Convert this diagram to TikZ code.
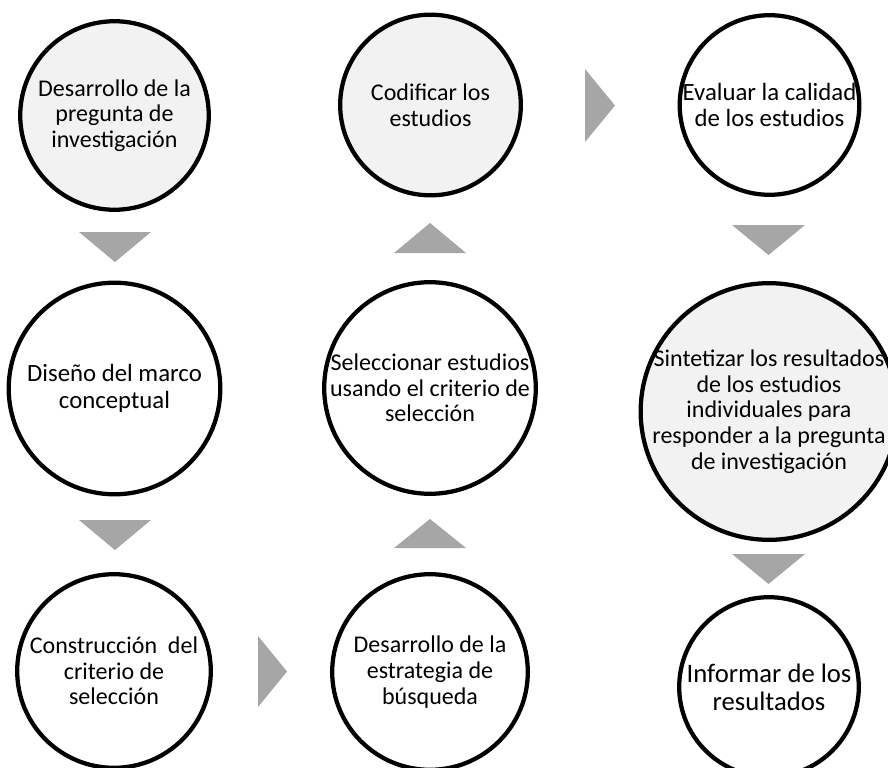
\documentclass[tikz,border=0pt]{standalone}
\usepackage{fontspec}
\setmainfont{Carlito}
\definecolor{lightfill}{HTML}{F2F2F2}
\definecolor{arrowgray}{HTML}{A6A6A6}
\tikzset{
  ring/.style={circle, draw=black, line width=3.2pt, inner sep=0pt, outer sep=0pt, minimum size=#1},
  shaded/.style={fill=lightfill},
  plain/.style={fill=white},
  txt/.style={align=center, inner sep=0pt, font=\fontsize{18}{19.3}\selectfont, text=black},
  bigtxt/.style={txt, font=\fontsize{18.6}{19.9}\selectfont},
  hugetxt/.style={txt, font=\fontsize{20}{21}\selectfont},
  tri/.style={fill=arrowgray},
}
\begin{document}
\begin{tikzpicture}[x=0.75pt,y=-0.75pt]
\useasboundingbox (0,0) rectangle (888,767);
\clip (0,0) rectangle (888,767);
\fill[white] (0,0) rectangle (888,767);
% circles
\node[ring=141.4pt, shaded] (c1) at (114.5,115.5) {};
\node[ring=158.7pt, plain]  (c2) at (114.5,388.5) {};
\node[ring=145.2pt, plain]  (c3) at (114,671) {};
\node[ring=146.7pt, plain]  (c4) at (430,672) {};
\node[ring=158.7pt, plain]  (c5) at (430,388) {};
\node[ring=135.5pt, shaded] (c6) at (430.5,105) {};
\node[ring=134.7pt, plain]  (c7) at (769.5,105) {};
\node[ring=192.5pt, shaded] (c8) at (769,411.5) {};
\node[ring=134.7pt, plain]  (c9) at (769,687) {};
% texts
\node[txt] (t1) at (c1.center) {Desarrollo de la\\pregunta de\\investigación};
\node[bigtxt] (t2) at (c2.center) {Diseño del marco\\conceptual};
\node[txt] (t3) at (c3.center) {Construcción\ \ del\\criterio de\\selección};
\node[txt] (t4) at (c4.center) {Desarrollo de la\\estrategia de\\búsqueda};
\node[txt] (t5) at (c5.center) {Seleccionar estudios\\usando el criterio de\\selección};
\node[txt] (t6) at (c6.center) {Codificar los\\estudios};
\node[bigtxt] (t7) at (c7.center) {Evaluar la calidad\\de los estudios};
\node[txt] (t8) at (c8.center) {Sintetizar los resultados\\de los estudios\\individuales para\\responder a la pregunta\\de investigación};
\node[hugetxt] (t9) at (c9.center) {Informar de los\\resultados};
% triangle arrows
\fill[tri] (79,232) -- (151,232) -- (115,262) -- cycle;
\fill[tri] (79,520) -- (151,520) -- (115,550) -- cycle;
\fill[tri] (258,636) -- (258,707) -- (287,671.5) -- cycle;
\fill[tri] (394,548) -- (466,548) -- (430,519) -- cycle;
\fill[tri] (394,253) -- (466,253) -- (430,223) -- cycle;
\fill[tri] (585,69) -- (585,142) -- (615,105.5) -- cycle;
\fill[tri] (732,225) -- (805,225) -- (768.5,255) -- cycle;
\fill[tri] (732,554) -- (805,554) -- (768.5,584) -- cycle;
\end{tikzpicture}
\end{document}
